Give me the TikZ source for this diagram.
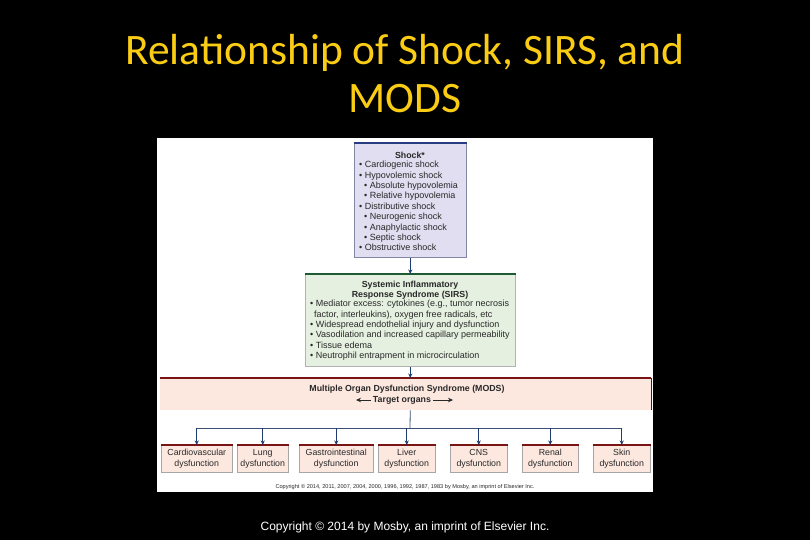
\documentclass[tikz,border=0pt]{standalone}
\usepackage{fontspec}
\setmainfont{Liberation Sans}
\newfontfamily\titlefont{Carlito}
\usetikzlibrary{arrows.meta}
\definecolor{ttl}{RGB}{250,204,20}
\definecolor{lav}{RGB}{224,222,240}
\definecolor{lavline}{RGB}{40,60,130}
\definecolor{lavside}{RGB}{130,135,165}
\definecolor{grn}{RGB}{229,240,224}
\definecolor{grnline}{RGB}{30,90,50}
\definecolor{pnk}{RGB}{253,232,224}
\definecolor{redline}{RGB}{120,20,20}
\definecolor{arrc}{RGB}{30,60,110}
\definecolor{txt}{RGB}{40,40,40}
\tikzset{
  box/.style={draw=#1, line width=0.5pt, inner sep=0, anchor=north west},
  arr/.style={draw=arrc, line width=0.8pt, -{Stealth[length=4.5pt,width=4pt]}},
  conn/.style={draw=arrc!70!gray, line width=0.8pt},
  body/.style={font=\fontsize{9}{10.4}\selectfont, text=txt, inner sep=0, align=left, anchor=north west},
  head/.style={font=\fontsize{8.8}{10.2}\selectfont\bfseries, text=txt, inner sep=0, align=center},
  organ/.style={box=gray!70, fill=pnk, minimum height=27pt},
  otext/.style={font=\fontsize{8.8}{11}\selectfont, text=txt, align=center, inner sep=0}
}
\begin{document}
\begin{tikzpicture}[x=1pt,y=-1pt]
\fill[black] (0,0) rectangle (810,540);
\useasboundingbox (0,0) rectangle (810,540);
% title
\node[font=\titlefont\fontsize{43.5}{48}\selectfont, text=ttl, align=center, inner sep=0] (title) at (405,74) {Relationship of Shock, SIRS, and\\MODS};
% white panel
\fill[white] (157,138) rectangle (653,492);
% shock box
\node[box=lavside, fill=lav, minimum width=112pt, minimum height=114pt] (shock) at (354,143) {};
\draw[lavline, line width=1.3pt] (shock.north west) -- (shock.north east);
\node[head] (shockh) at (410,155) {Shock*};
\node[body] (shockl) at (359,161) {%
• Cardiogenic shock\\
• Hypovolemic shock\\
\hspace*{5pt}• Absolute hypovolemia\\
\hspace*{5pt}• Relative hypovolemia\\
• Distributive shock\\
\hspace*{5pt}• Neurogenic shock\\
\hspace*{5pt}• Anaphylactic shock\\
\hspace*{5pt}• Septic shock\\
• Obstructive shock};
% SIRS box
\node[box=gray!60, fill=grn, minimum width=210pt, minimum height=92pt] (sirs) at (305,274) {};
\draw[grnline, line width=1.3pt] (sirs.north west) -- (sirs.north east);
\node[head] (sirsh) at (410,290) {Systemic Inflammatory\\Response Syndrome (SIRS)};
\node[body] (sirsl) at (310,300) {%
• Mediator excess: cytokines (e.g., tumor necrosis\\
\hspace*{4pt}factor, interleukins), oxygen free radicals, etc\\
• Widespread endothelial injury and dysfunction\\
• Vasodilation and increased capillary permeability\\
• Tissue edema\\
• Neutrophil entrapment in microcirculation};
\draw[arr] (shock.south) -- (sirs.north);
% MODS band
\node[inner sep=0, fill=pnk, anchor=north west, minimum width=491pt, minimum height=32pt] (mods) at (160,378) {};
\draw[redline, line width=1.5pt] (mods.north west) -- (mods.north east);
\draw[txt, line width=0.6pt] (mods.north east) -- (mods.south east);
\draw[arr] (sirs.south) -- (mods.north -| sirs.south);
\node[head] (modsh) at (407,389) {Multiple Organ Dysfunction Syndrome (MODS)};
\node[head] (tgt) at (402,400) {Target organs};
\coordinate (tl) at (356,400);
\coordinate (tr) at (453,400);
\draw[txt, line width=0.7pt, -{Stealth[length=5pt,width=4.5pt]}] (tgt.west) ++(-2,0) -- (tl);
\draw[txt, line width=0.7pt, -{Stealth[length=5pt,width=4.5pt]}] (tgt.east) ++(2,0) -- (tr);
% organ boxes
\node[organ, minimum width=71pt] (o1) at (161,445) {};
\node[organ, minimum width=51pt] (o2) at (237,445) {};
\node[organ, minimum width=74pt] (o3) at (299,445) {};
\node[organ, minimum width=57pt] (o4) at (378,445) {};
\node[organ, minimum width=57pt] (o5) at (450,445) {};
\node[organ, minimum width=56pt] (o6) at (522,445) {};
\node[organ, minimum width=57pt] (o7) at (593,445) {};
\foreach \n in {o1,o2,o3,o4,o5,o6,o7}{
  \draw[redline, line width=1.3pt] (\n.north west) -- (\n.north east);
}
\node[otext] at (o1.center) {Cardiovascular\\dysfunction};
\node[otext] at (o2.center) {Lung\\dysfunction};
\node[otext] at (o3.center) {Gastrointestinal\\dysfunction};
\node[otext] at (o4.center) {Liver\\dysfunction};
\node[otext] at (o5.center) {CNS\\dysfunction};
\node[otext] at (o6.center) {Renal\\dysfunction};
\node[otext] at (o7.center) {Skin\\dysfunction};
% distribution
\coordinate (bus) at (410,428);
\draw[conn] (mods.south -| sirs.south) -- (bus);
\draw[conn] (o1.north |- bus) -- (o7.north |- bus);
\foreach \n in {o1,o2,o3,o4,o5,o6,o7}{
  \draw[arr] (\n.north |- bus) -- (\n.north);
}
% small copyright
\node[font=\fontsize{5.6}{6}\selectfont, text=txt, inner sep=0] (smallc) at (405,487) {Copyright \textcopyright{} 2014, 2011, 2007, 2004, 2000, 1996, 1992, 1987, 1983 by Mosby, an imprint of Elsevier Inc.};
% bottom copyright
\node[font=\fontsize{12}{14}\selectfont, text=white, inner sep=0] (copy) at (405,527) {Copyright \textcopyright{} 2014 by Mosby, an imprint of Elsevier Inc.};
\end{tikzpicture}
\end{document}
